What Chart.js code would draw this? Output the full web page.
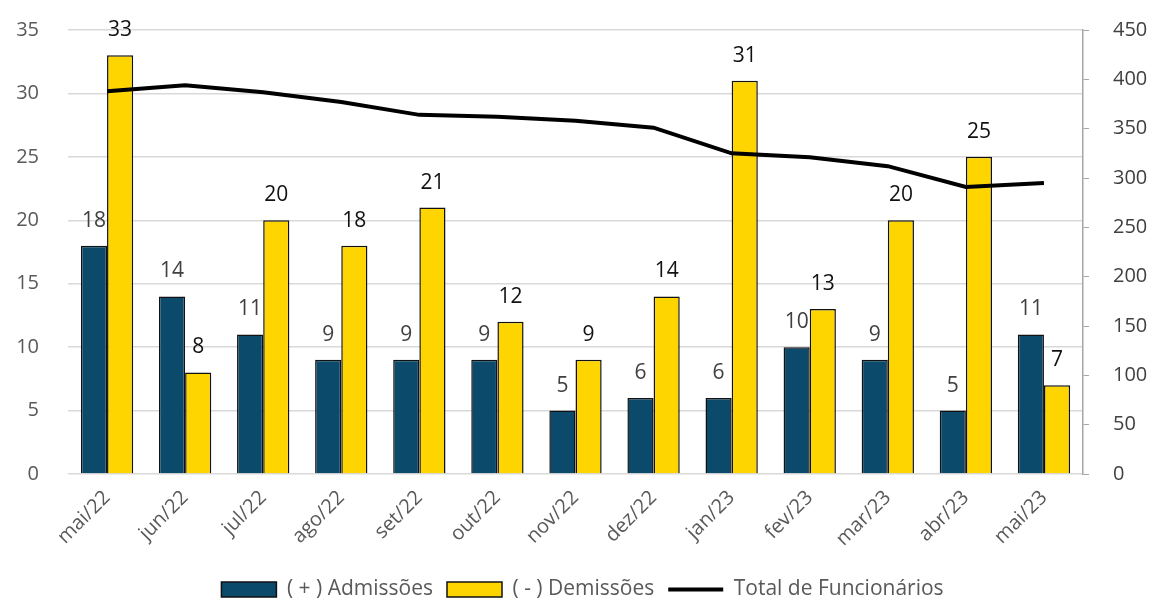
<!DOCTYPE html>
<html lang="pt">
<head>
<meta charset="UTF-8">
<title>Admissões e Demissões</title>
<style>
  html, body { margin: 0; padding: 0; background: #fff; }
  #wrap { width: 1154px; height: 600px; }
</style>
</head>
<body>
<div id="wrap"><canvas id="chart" width="1154" height="600"></canvas></div>
<script src="https://cdn.jsdelivr.net/npm/chart.js@4.4.0/dist/chart.umd.min.js"></script>
<script>
var months = ["mai/22", "jun/22", "jul/22", "ago/22", "set/22", "out/22", "nov/22",
              "dez/22", "jan/23", "fev/23", "mar/23", "abr/23", "mai/23"];
var admissoes = [18, 14, 11, 9, 9, 9, 5, 6, 6, 10, 9, 5, 11];
var demissoes = [33, 8, 20, 18, 21, 12, 9, 14, 31, 13, 20, 25, 7];
var totalFunc = [388, 394, 387, 377, 364, 362, 358, 351, 325, 321, 312, 291, 295];

var fontFamily = "'Open Sans', sans-serif";

// value labels above the bars
var barLabels = {
  id: "barLabels",
  afterDatasetsDraw: function (chart) {
    var ctx = chart.ctx;
    ctx.save();
    ctx.font = "21px " + fontFamily;
    ctx.textAlign = "center";
    ctx.textBaseline = "middle";
    [0, 1].forEach(function (di) {
      var meta = chart.getDatasetMeta(di);
      ctx.fillStyle = di === 0 ? "#404040" : "#111";
      meta.data.forEach(function (bar, i) {
        ctx.fillText(chart.data.datasets[di].data[i], bar.x, bar.y - 25);
      });
    });
    ctx.restore();
  }
};

// push the legend a bit lower, closer to the bottom edge
var legendDrop = {
  id: "legendDrop",
  afterInit: function (chart) {
    var lg = chart.legend;
    var fit = lg.fit;
    lg.fit = function () {
      fit.call(this);
      this.height -= 10;
    };
  }
};

new Chart(document.getElementById("chart"), {
  type: "bar",
  data: {
    labels: months,
    datasets: [{
      label: "( + ) Admissões",
      data: admissoes,
      backgroundColor: "#0c4a6c",
      borderColor: "#111",
      borderWidth: 1.5,
      pointStyle: "rect",
      yAxisID: "y",
      order: 2
    }, {
      label: "( - ) Demissões",
      data: demissoes,
      backgroundColor: "#ffd500",
      borderColor: "#111",
      borderWidth: 1.5,
      pointStyle: "rect",
      yAxisID: "y",
      order: 2
    }, {
      type: "line",
      label: "Total de Funcionários",
      data: totalFunc,
      borderColor: "#000",
      backgroundColor: "#000",
      borderWidth: 4,
      pointRadius: 0,
      pointStyle: "line",
      tension: 0,
      yAxisID: "y1",
      order: 1
    }]
  },
  options: {
    responsive: false,
    animation: false,
    devicePixelRatio: 1,
    layout: { padding: { left: 14, right: 3, top: 30, bottom: 0 } },
    datasets: {
      bar: { categoryPercentage: 0.67, barPercentage: 1 }
    },
    scales: {
      x: {
        grid: { display: false },
        border: { display: false },
        ticks: {
          minRotation: 45, maxRotation: 45,
          padding: 4,
          color: "#595959",
          font: { family: fontFamily, size: 20 }
        },
        afterFit: function (s) { s.paddingLeft = 0; s.paddingRight = 0; s.height = 91; }
      },
      y: {
        position: "left",
        min: 0, max: 35,
        ticks: { stepSize: 5, color: "#595959", padding: 29,
                 font: { family: fontFamily, size: 20 } },
        grid: { color: "#d9d9d9", lineWidth: 1.5, drawTicks: false },
        border: { display: false },
        afterFit: function (s) { s.width = 54; s.paddingTop = 0; s.paddingBottom = 0; }
      },
      y1: {
        position: "right",
        min: 0, max: 450,
        ticks: { stepSize: 50, color: "#404040", padding: 24,
                 font: { family: fontFamily, size: 20 } },
        grid: { drawOnChartArea: false, drawTicks: true, tickLength: 6, color: "#a6a6a6" },
        border: { display: true, color: "#a6a6a6", width: 1.5 },
        afterFit: function (s) { s.width = 68; s.paddingTop = 0; s.paddingBottom = 0; }
      }
    },
    plugins: {
      legend: {
        position: "bottom",
        labels: {
          usePointStyle: true,
          pointStyleWidth: 55,
          boxHeight: 15,
          padding: 14,
          color: "#595959",
          font: { family: fontFamily, size: 21 },
          sort: function (a, b) { return a.datasetIndex - b.datasetIndex; }
        }
      },
      tooltip: { enabled: false }
    }
  },
  plugins: [barLabels, legendDrop]
});
</script>
</body>
</html>
